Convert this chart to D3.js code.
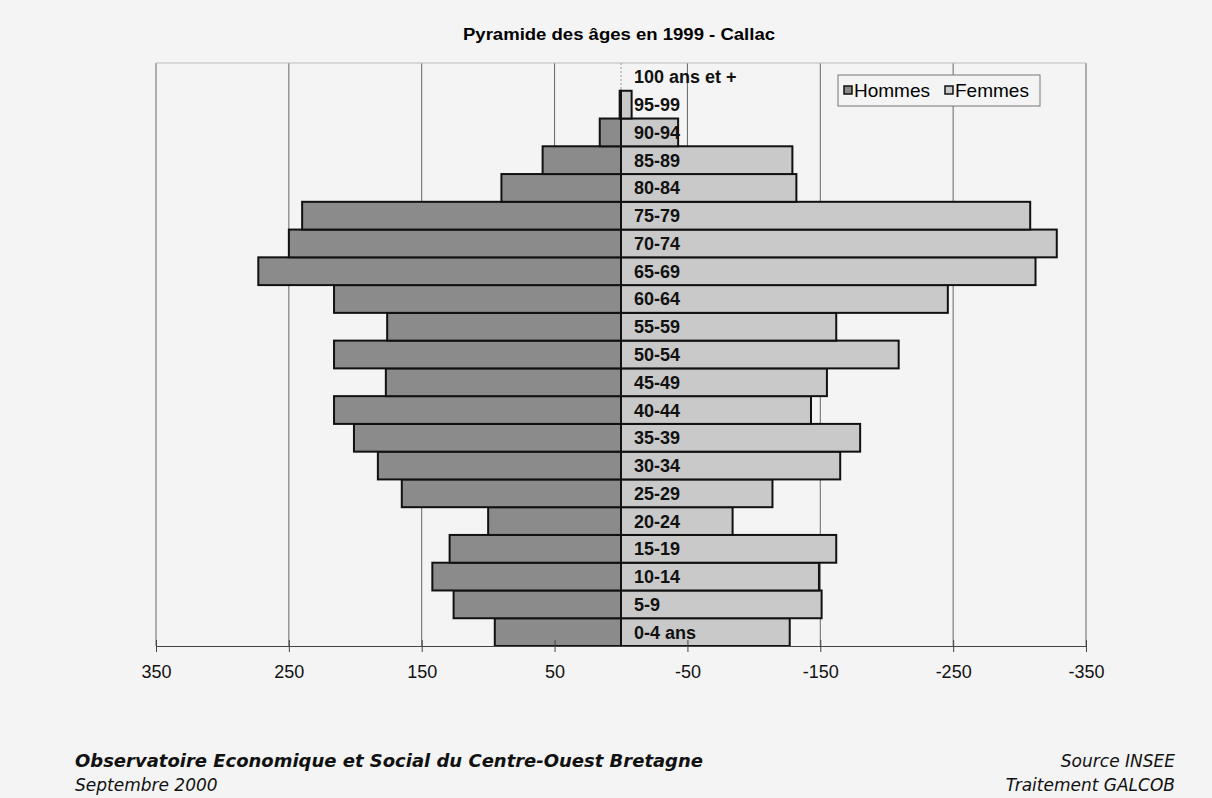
<!DOCTYPE html>
<html lang='fr'>

<head>
   <meta charset='UTF-8'>
   <script src="https://cdnjs.cloudflare.com/ajax/libs/d3/7.8.5/d3.min.js"></script>
   <style>
      body {
         margin: 0;
         background: #f4f4f4;
      }

      svg {
         display: block;
      }

      .axis text {
         font: 18px 'Liberation Sans', Arial, sans-serif;
         fill: #111;
      }

      .axis path,
      .axis line {
         stroke: #444;
      }

      .cat {
         font: bold 18px 'Liberation Sans', Arial, sans-serif;
         fill: #111;
      }

      .foot {
         font: italic 17px 'DejaVu Sans', Verdana, sans-serif;
         fill: #111;
      }
   </style>
   <title>Pyramide des âges en 1999 - Callac</title>
</head>

<body>
   <svg id='chart'></svg>

   <script>
      'use strict'

      // age groups, from bottom to top
      const categories = ['0-4 ans', '5-9', '10-14', '15-19', '20-24', '25-29', '30-34', '35-39',
         '40-44', '45-49', '50-54', '55-59', '60-64', '65-69', '70-74', '75-79', '80-84',
         '85-89', '90-94', '95-99', '100 ans et +']

      const hommes = [95, 126, 142, 129, 100, 165, 183, 201, 216, 177, 216, 176, 216,
         273, 250, 240, 90, 59, 16, 1, 0]

      // femmes are kept negative, as in the original sheet
      const femmes = [-127, -151, -149, -162, -84, -114, -165, -180, -143, -155, -209, -162, -246,
         -312, -328, -308, -132, -129, -43, -8, 0]

      const tickValues = [350, 250, 150, 50, -50, -150, -250, -350]

      const width = 1212,
         height = 798

      const plot = { left: 156, right: 1086, top: 63, bottom: 646 }

      const svg = d3.select('svg')
         .attr('width', width)
         .attr('height', height)

      svg.append('rect')
         .attr('width', width)
         .attr('height', height)
         .attr('fill', '#f4f4f4')

      const x = d3.scaleLinear([350, -350], [plot.left, plot.right])
      const y = d3.scaleBand(categories.slice().reverse(), [plot.top, plot.bottom])
         .padding(0)

      // title
      svg.append('text')
         .attr('x', 619)
         .attr('y', 40)
         .attr('text-anchor', 'middle')
         .attr('textLength', 312)
         .attr('lengthAdjust', 'spacingAndGlyphs')
         .style('font', "bold 16px 'Liberation Sans', Arial, sans-serif")
         .text('Pyramide des âges en 1999 - Callac')

      // gridlines + border of plot area
      svg.append('g')
         .selectAll('line')
         .data(tickValues)
         .join('line')
         .attr('x1', d => x(d))
         .attr('x2', d => x(d))
         .attr('y1', plot.top)
         .attr('y2', plot.bottom)
         .attr('stroke', '#666')
         .attr('stroke-width', 1)

      svg.append('line')
         .attr('x1', plot.left)
         .attr('x2', plot.right)
         .attr('y1', plot.top)
         .attr('y2', plot.top)
         .attr('stroke', '#bbb')

      svg.append('line')
         .attr('x1', x(0))
         .attr('x2', x(0))
         .attr('y1', plot.top)
         .attr('y2', plot.bottom)
         .attr('stroke', '#999')
         .attr('stroke-dasharray', '2,2')

      const rows = categories.map((c, i) => ({ cat: c, h: hommes[i], f: femmes[i] }))

      // Hommes bars (positive side, to the left)
      svg.append('g')
         .selectAll('rect')
         .data(rows.filter(d => d.h !== 0))
         .join('rect')
         .attr('x', d => x(d.h))
         .attr('y', d => y(d.cat))
         .attr('width', d => x(0) - x(d.h))
         .attr('height', y.bandwidth())
         .attr('fill', '#8b8b8b')
         .attr('stroke', '#111')
         .attr('stroke-width', 2)

      // Femmes bars (negative side, to the right)
      svg.append('g')
         .selectAll('rect')
         .data(rows.filter(d => d.f !== 0))
         .join('rect')
         .attr('x', x(0))
         .attr('y', d => y(d.cat))
         .attr('width', d => x(d.f) - x(0))
         .attr('height', y.bandwidth())
         .attr('fill', '#c9c9c9')
         .attr('stroke', '#111')
         .attr('stroke-width', 2)

      // category labels next to the axis
      svg.append('g')
         .selectAll('text')
         .data(categories)
         .join('text')
         .attr('class', 'cat')
         .attr('x', x(0) + 13)
         .attr('y', d => y(d) + y.bandwidth() / 2)
         .attr('dy', '0.36em')
         .text(d => d)

      // x axis, ticks crossing the line
      const xAxis = svg.append('g')
         .attr('class', 'axis')
         .attr('transform', `translate(0,${plot.bottom})`)
         .call(d3.axisBottom(x)
            .tickValues(tickValues)
            .tickSize(6)
            .tickSizeOuter(0)
            .tickPadding(13)
            .tickFormat(d => String(d)))

      xAxis.selectAll('.tick line').attr('y1', -6)

      // legend
      const legend = svg.append('g').attr('transform', 'translate(838,75)')
      legend.append('rect')
         .attr('width', 202)
         .attr('height', 31)
         .attr('fill', '#f4f4f4')
         .attr('stroke', '#777')

      const legendItems = [
         { label: 'Hommes', color: '#8b8b8b', x: 6 },
         { label: 'Femmes', color: '#c9c9c9', x: 107 }
      ]

      legend.selectAll('g')
         .data(legendItems)
         .join('g')
         .attr('transform', d => `translate(${d.x},0)`)
         .each(function (d) {
            const g = d3.select(this)
            g.append('rect')
               .attr('x', 0)
               .attr('y', 11)
               .attr('width', 8)
               .attr('height', 8)
               .attr('fill', d.color)
               .attr('stroke', '#111')
               .attr('stroke-width', 1.5)
            g.append('text')
               .attr('x', 10)
               .attr('y', 22)
               .style('font', "19px 'Liberation Sans', Arial, sans-serif")
               .text(d.label)
         })

      // footer
      svg.append('text')
         .attr('class', 'foot')
         .attr('x', 75)
         .attr('y', 767)
         .attr('textLength', 628)
         .attr('lengthAdjust', 'spacingAndGlyphs')
         .style('font-weight', 'bold')
         .text('Observatoire Economique et Social du Centre-Ouest Bretagne')

      svg.append('text')
         .attr('class', 'foot')
         .attr('x', 75)
         .attr('y', 791)
         .text('Septembre 2000')

      svg.append('text')
         .attr('class', 'foot')
         .attr('x', 1175)
         .attr('y', 767)
         .attr('text-anchor', 'end')
         .text('Source INSEE')

      svg.append('text')
         .attr('class', 'foot')
         .attr('x', 1175)
         .attr('y', 791)
         .attr('text-anchor', 'end')
         .text('Traitement GALCOB')
   </script>
</body>

</html>
